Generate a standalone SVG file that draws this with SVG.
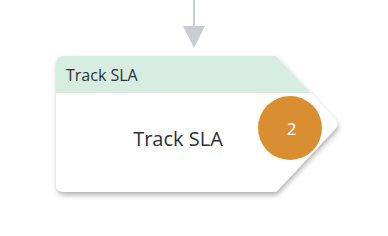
<svg xmlns="http://www.w3.org/2000/svg" width="388" height="236" viewBox="0 0 388 236">
<defs>
<style>
.lbl{font-family:"Open Sans","Noto Sans",sans-serif;fill:#2d3136}
</style>
<filter id="sh" x="-10%" y="-10%" width="130%" height="130%">
<feDropShadow dx="1" dy="3" stdDeviation="2.5" flood-color="#000" flood-opacity="0.3"/>
</filter>
<clipPath id="cp"><path d="M64,56 L276,56 L336,120 Q339,124 336,128 L276,192 L64,192 Q56,192 56,184 L56,64 Q56,56 64,56 Z"/></clipPath>
</defs>
<g id="connectors">
<line x1="194" y1="0" x2="194" y2="28" stroke="#c9cdd1" stroke-width="2"/>
<polygon points="183,26 205,26 194,48" fill="#c9cdd1"/>
</g>
<g id="node-track-sla">
<path d="M64,56 L276,56 L336,120 Q339,124 336,128 L276,192 L64,192 Q56,192 56,184 L56,64 Q56,56 64,56 Z" fill="#fff" filter="url(#sh)"/>
<rect x="56" y="56" width="300" height="37" fill="#d8ede1" clip-path="url(#cp)"/>
<text class="lbl" x="66" y="81" font-size="16">Track SLA</text>
<text class="lbl" x="178" y="146" font-size="20" text-anchor="middle">Track SLA</text>
<circle cx="290" cy="128" r="32" fill="#d98e32"/>
<text x="291.5" y="135" font-size="17" text-anchor="middle" fill="#fff" font-family="Open Sans, sans-serif">2</text>
</g>
</svg>
